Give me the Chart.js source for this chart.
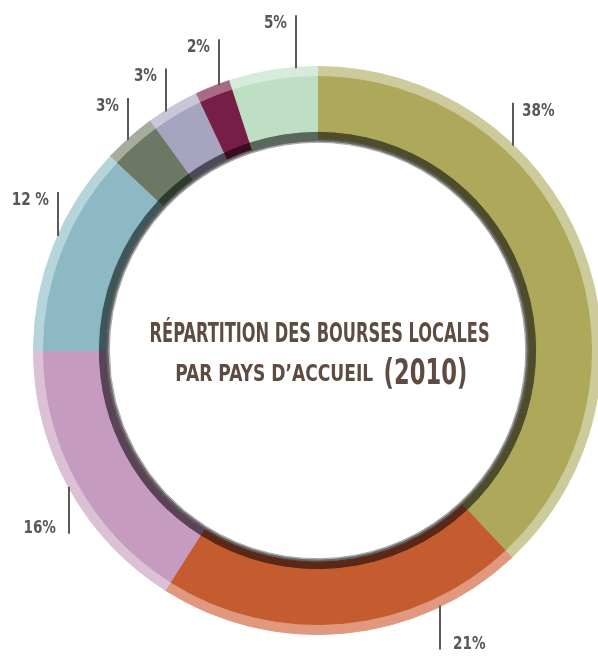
<!DOCTYPE html>
<html>
<head>
<meta charset="utf-8">
<script src="https://cdn.jsdelivr.net/npm/chart.js@4.4.0/dist/chart.umd.min.js"></script>
<style>
  html, body { margin: 0; padding: 0; background: #fff; overflow: hidden; width: 598px; height: 656px; }
  #wrap { position: absolute; left: 0; top: 0; width: 640px; height: 656px; }
</style>
</head>
<body>
<div id="wrap"><canvas id="chart" width="640" height="656"></canvas></div>
<script>
// données : part des bourses locales par pays d'accueil (2010), sens horaire depuis midi
const categories = ["Pays 1", "Pays 2", "Pays 3", "Pays 4", "Pays 5", "Pays 6", "Pays 7", "Pays 8"];
const shares = [38, 21, 16, 12, 3, 3, 2, 5];
const shareLabels = ["38%", "21%", "16%", "12 %", "3%", "3%", "2%", "5%"];

// couleurs : bande claire extérieure, couleur principale, bande sombre intérieure
const mainColors  = ["#aea85b", "#c55c2f", "#c59bc0", "#8cb9c3", "#6c7764", "#a6a4be", "#771e46", "#bfdfc4"];
const lightColors = ["#cdcb9b", "#e0987f", "#dbc0d6", "#b6d5db", "#a5ad9f", "#c8c7d8", "#a86b86", "#d7ebda"];
const darkColors  = ["#4f4c2b", "#5b2716", "#5a4357", "#3e5559", "#2f3a2f", "#4b4a5a", "#3b0b21", "#56695b"];

// position des étiquettes (angle en degrés depuis midi) et longueur des traits
const labelAngles = [43.6, 154.4, 241.1, 294, 318.1, 327.7, 339.6, 355.6];
const labelLineLen = [42, 43, 46, 43, 41, 42, 45, 52];

const narrow = '"Liberation Sans Narrow", "DejaVu Sans Condensed", "Liberation Sans", sans-serif';

function ring(colors, weight) {
  return {
    data: shares,
    backgroundColor: colors,
    borderColor: colors,
    borderWidth: 1,
    weight: weight,
  };
}

// texte compressé horizontalement : x = bord gauche de l'encre, w = largeur voulue
function fitText(ctx, text, x, y, w) {
  const m = ctx.measureText(text);
  const inkW = m.actualBoundingBoxLeft + m.actualBoundingBoxRight;
  const s = w / inkW;
  ctx.save();
  ctx.translate(x + m.actualBoundingBoxLeft * s, y);
  ctx.scale(s, 1);
  ctx.textAlign = "left";
  ctx.fillText(text, 0, 0);
  ctx.restore();
}

// étiquette avec compression fixe
function squeezeText(ctx, text, x, y, s, right) {
  const w = ctx.measureText(text).width * s;
  ctx.save();
  ctx.translate(right ? x : x - w, y);
  ctx.scale(s, 1);
  ctx.textAlign = "left";
  ctx.fillText(text, 0, 0);
  ctx.restore();
}

const labelsPlugin = {
  id: "labels",
  afterDatasetsDraw(chart) {
    const ctx = chart.ctx;
    const arc = chart.getDatasetMeta(0).data[0];
    const cx = arc.x, cy = arc.y, R = arc.outerRadius;

    ctx.save();
    ctx.strokeStyle = "#5a5a5a";
    ctx.lineWidth = 2;
    ctx.fillStyle = "#575757";
    ctx.font = "bold 18px " + narrow;
    ctx.textBaseline = "middle";
    for (let i = 0; i < shares.length; i++) {
      const a = labelAngles[i] * Math.PI / 180;
      const x = Math.round(cx + R * Math.sin(a));
      const yEdge = cy - R * Math.cos(a);
      const up = Math.cos(a) > 0;
      const yEnd = up ? yEdge - labelLineLen[i] : yEdge + labelLineLen[i];
      ctx.beginPath();
      ctx.moveTo(x, up ? yEdge + 1 : yEdge - 1);
      ctx.lineTo(x, yEnd);
      ctx.stroke();
      const right = Math.sin(a) > 0;
      const gap = up ? 9 : 13;
      const ty = up ? yEnd + 8 : yEnd - 5;
      squeezeText(ctx, shareLabels[i], right ? x + gap : x - gap, ty, 0.84, right);
    }
    ctx.restore();

    // titre au centre
    ctx.save();
    ctx.fillStyle = "#5e4b41";
    ctx.textBaseline = "alphabetic";
    ctx.font = "bold 26px " + narrow;
    fitText(ctx, "RÉPARTITION DES BOURSES LOCALES", 151, 342, 338);
    ctx.font = "bold 23px " + narrow;
    fitText(ctx, "PAR PAYS D’ACCUEIL", 176, 381, 197);
    ctx.font = "bold 36px " + narrow;
    fitText(ctx, "(2010)", 385, 384, 81);
    ctx.restore();
  },
};

new Chart(document.getElementById("chart"), {
  type: "doughnut",
  data: {
    labels: categories,
    datasets: [
      ring(lightColors, 9),
      ring(mainColors, 56),
      ring(darkColors, 7.5),
      ring(shares.map(() => "#636363"), 2),
      ring(shares.map(() => "#a8a8a8"), 1.5),
    ],
  },
  options: {
    responsive: false,
    animation: false,
    cutout: "73.3%",
    layout: { padding: { left: 33, right: 38, top: 66, bottom: 21 } },
    plugins: {
      legend: { display: false },
      tooltip: { enabled: false },
    },
  },
  plugins: [labelsPlugin],
});
</script>
</body>
</html>
